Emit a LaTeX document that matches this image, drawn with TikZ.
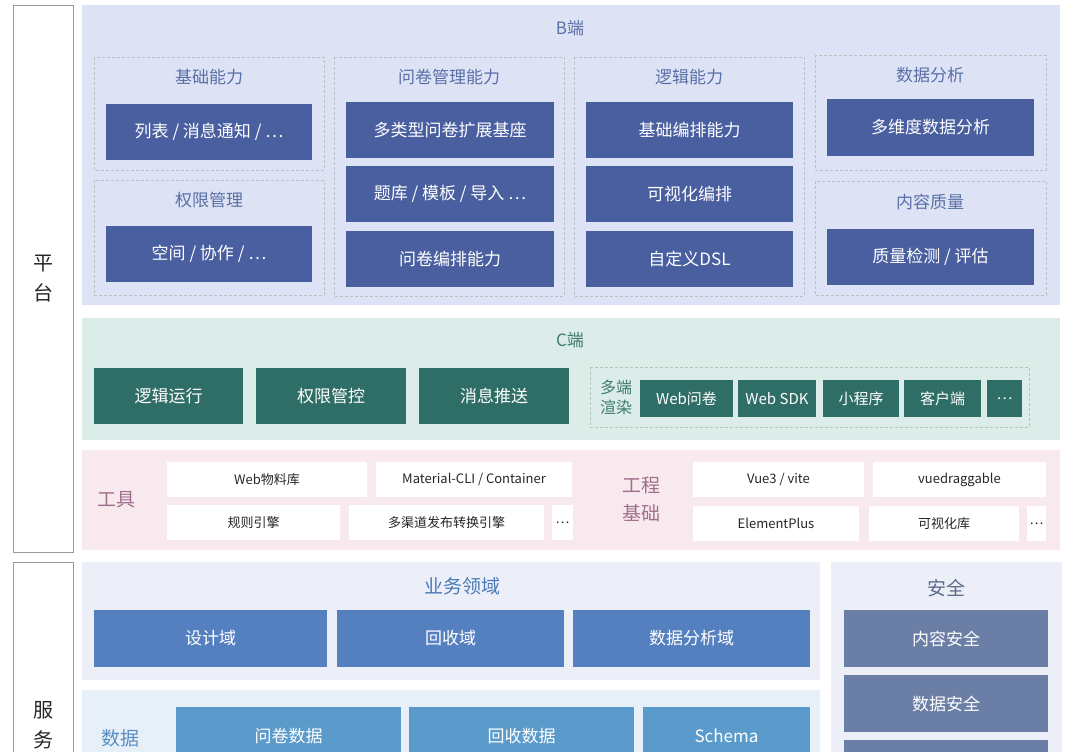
\documentclass[tikz,border=0pt]{standalone}
\usepackage{fontspec}
\setmainfont{Noto Sans CJK SC}
\definecolor{bbg}{HTML}{DDE3F4}
\definecolor{bdk}{HTML}{4A5FA0}
\definecolor{btx}{HTML}{5A6FA8}
\definecolor{cbg}{HTML}{DCEDE9}
\definecolor{cdk}{HTML}{2F6E66}
\definecolor{ctx}{HTML}{3D7A70}
\definecolor{tbg}{HTML}{F8E9EF}
\definecolor{ttx}{HTML}{A0708A}
\definecolor{sbg}{HTML}{ECEFF8}
\definecolor{sdk}{HTML}{5580BF}
\definecolor{stx}{HTML}{4A7AB8}
\definecolor{dbg}{HTML}{E7F0F8}
\definecolor{ddk}{HTML}{5B9BCC}
\definecolor{dtx}{HTML}{5A8EC0}
\definecolor{adk}{HTML}{6B7FA6}
\definecolor{atx}{HTML}{5A6A88}
\newcommand{\bx}[7]{\node[#2,minimum width=#5pt-#3pt,minimum height=#6pt-#4pt] (#1) at ({(#3+#5)/2},{(#4+#6)/2}) {#7};}
\newcommand{\rg}[6]{\fill[#1] (#2,#3) rectangle (#4,#5); \node[#6] at ({(#2+#4)/2},{(#3+#5)/2}) {};}
\begin{document}
\begin{tikzpicture}[x=1pt,y=-1pt,
 base/.style={inner sep=0pt,outer sep=0pt,align=center},
 dk/.style={base,fill=bdk,text=white,font=\fontsize{17}{20}\selectfont},
 cd/.style={base,fill=cdk,text=white,font=\fontsize{17}{20}\selectfont},
 cs/.style={base,fill=cdk,text=white,font=\fontsize{15}{18}\selectfont},
 wt/.style={base,fill=white,text=black!85,font=\fontsize{13}{16}\selectfont},
 sd/.style={base,fill=sdk,text=white,font=\fontsize{17}{20}\selectfont},
 dd/.style={base,fill=ddk,text=white,font=\fontsize{17}{20}\selectfont},
 ad/.style={base,fill=adk,text=white,font=\fontsize{17}{20}\selectfont},
 grp/.style={draw=black!25,densely dashed,line width=0.6pt},
 ttl/.style={base,font=\fontsize{17}{20}\selectfont}]
\useasboundingbox (0,0) rectangle (1080,752);
\clip (0,0) rectangle (1080,752);
\fill[white] (0,0) rectangle (1080,752);
% side labels
\draw[black!40,fill=white] (13,5) rectangle (73,552);
\node[ttl,text=black!85,font=\fontsize{20}{30}\selectfont] (pt) at (43,279) {平\\台};
\draw[black!40,fill=white] (13,562) rectangle (73,770);
\node[ttl,text=black!85,font=\fontsize{20}{30}\selectfont] (fw) at (43,725) {服\\务};
% B
\fill[bbg] (82,5) rectangle (1060,305);
\node[ttl,text=btx] (bt) at (570,28) {B端};
\draw[grp] (94,57) rectangle (324,170);
\draw[grp] (94,180) rectangle (324,295);
\draw[grp] (334,57) rectangle (564,296);
\draw[grp] (574,57) rectangle (804,296);
\draw[grp] (815,55) rectangle (1046,170);
\draw[grp] (815,181) rectangle (1046,295);
\node[ttl,text=btx] (g1) at (209,77) {基础能力};
\node[ttl,text=btx] (g2) at (209,200) {权限管理};
\node[ttl,text=btx] (g3) at (449,77) {问卷管理能力};
\node[ttl,text=btx] (g4) at (689,77) {逻辑能力};
\node[ttl,text=btx] (g5) at (930,75) {数据分析};
\node[ttl,text=btx] (g6) at (930,202) {内容质量};
\bx{b1}{dk}{106}{104}{312}{160}{列表 / 消息通知 / …}
\bx{b2}{dk}{106}{226}{312}{282}{空间 / 协作 / …}
\bx{b3}{dk}{346}{102}{554}{158}{多类型问卷扩展基座}
\bx{b4}{dk}{346}{166}{554}{222}{题库 / 模板 / 导入 …}
\bx{b5}{dk}{346}{231}{554}{287}{问卷编排能力}
\bx{b6}{dk}{586}{102}{793}{158}{基础编排能力}
\bx{b7}{dk}{586}{166}{793}{222}{可视化编排}
\bx{b8}{dk}{586}{231}{793}{287}{自定义DSL}
\bx{b9}{dk}{827}{99}{1034}{156}{多维度数据分析}
\bx{b10}{dk}{827}{229}{1034}{285}{质量检测 / 评估}
% C
\fill[cbg] (82,318) rectangle (1060,440);
\node[ttl,text=ctx] (ct) at (570,340) {C端};
\bx{c1}{cd}{94}{368}{243}{424}{逻辑运行}
\bx{c2}{cd}{256}{368}{406}{424}{权限管控}
\bx{c3}{cd}{419}{368}{569}{424}{消息推送}
\draw[grp] (590,367) rectangle (1029,427);
\node[ttl,text=ctx,font=\fontsize{16}{20}\selectfont] (dr) at (616,397) {多端\\渲染};
\bx{c4}{cs}{640}{380}{733}{417}{Web问卷}
\bx{c5}{cs}{738}{380}{816}{417}{Web SDK}
\bx{c6}{cs}{823}{380}{899}{417}{小程序}
\bx{c7}{cs}{904}{380}{981}{417}{客户端}
\bx{c8}{cs}{987}{380}{1022}{417}{…}
% tools
\fill[tbg] (82,450) rectangle (1060,550);
\node[ttl,text=ttx,font=\fontsize{19}{24}\selectfont] (tl) at (116,500) {工具};
\bx{t1}{wt}{167}{462}{367}{497}{Web物料库}
\bx{t2}{wt}{376}{462}{572}{497}{Material-CLI / Container}
\bx{t3}{wt}{167}{505}{340}{540}{规则引擎}
\bx{t4}{wt}{349}{505}{544}{540}{多渠道发布转换引擎}
\bx{t5}{wt}{552}{505}{573}{540}{…}
\node[ttl,text=ttx,font=\fontsize{19}{28}\selectfont] (gc) at (641,499) {工程\\基础};
\bx{t6}{wt}{693}{462}{864}{497}{Vue3 / vite}
\bx{t7}{wt}{873}{462}{1046}{497}{vuedraggable}
\bx{t8}{wt}{693}{506}{859}{541}{ElementPlus}
\bx{t9}{wt}{869}{506}{1019}{541}{可视化库}
\bx{t10}{wt}{1027}{506}{1046}{541}{…}
% service
\fill[sbg] (82,562) rectangle (820,680);
\node[ttl,text=stx,font=\fontsize{19}{24}\selectfont] (yw) at (462,586) {业务领域};
\bx{s1}{sd}{94}{610}{327}{667}{设计域}
\bx{s2}{sd}{337}{610}{564}{667}{回收域}
\bx{s3}{sd}{573}{610}{810}{667}{数据分析域}
\fill[dbg] (82,690) rectangle (820,770);
\node[ttl,text=dtx,font=\fontsize{19}{24}\selectfont] (sj) at (120,738) {数据};
\bx{d1}{dd}{176}{707}{401}{765}{问卷数据}
\bx{d2}{dd}{409}{707}{634}{765}{回收数据}
\bx{d3}{dd}{643}{707}{810}{765}{Schema}
\fill[sbg] (831,562) rectangle (1062,770);
\node[ttl,text=atx,font=\fontsize{19}{24}\selectfont] (aq) at (946,588) {安全};
\bx{a1}{ad}{844}{610}{1048}{667}{内容安全}
\bx{a2}{ad}{844}{675}{1048}{732}{数据安全}
\bx{a3}{ad}{844}{740}{1048}{790}{}
\end{tikzpicture}
\end{document}
